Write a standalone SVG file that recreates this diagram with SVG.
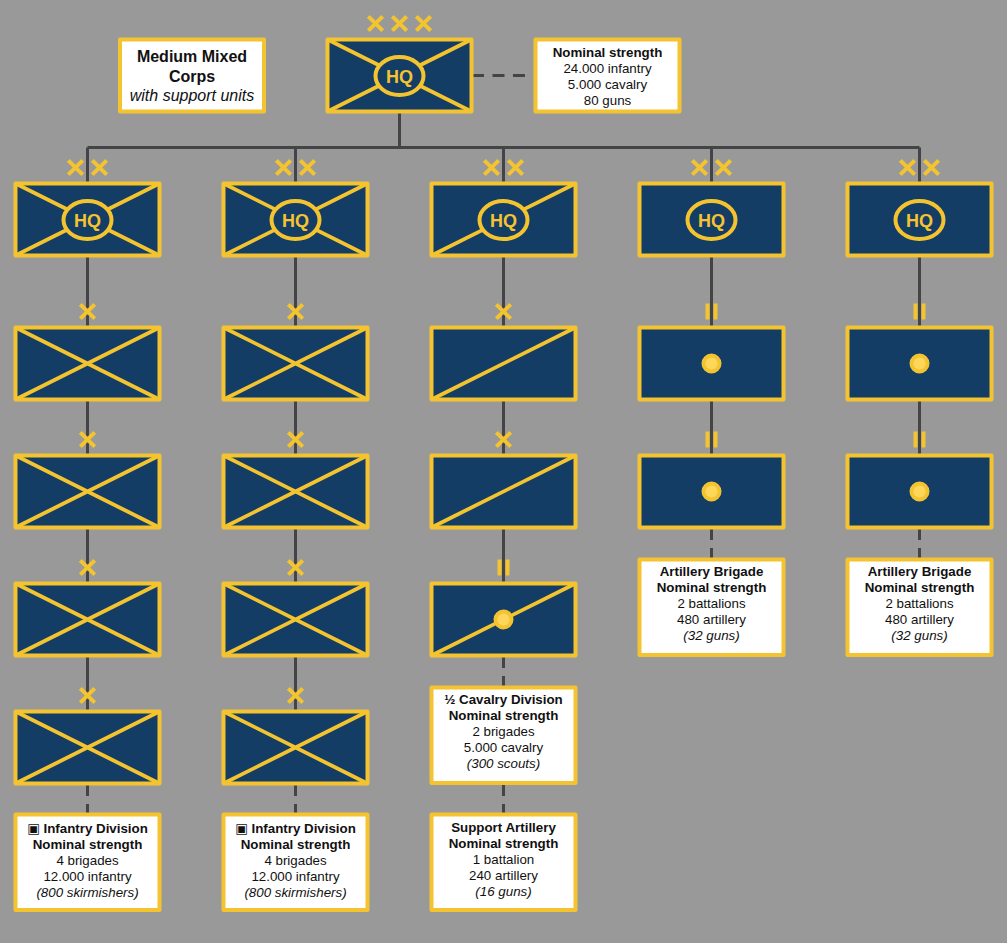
<svg xmlns="http://www.w3.org/2000/svg" xmlns:xlink="http://www.w3.org/1999/xlink" width="1007" height="943" viewBox="0 0 1007 943">
<style>
text{font-family:"Liberation Sans",Arial,"DejaVu Sans",sans-serif;font-size:13.33px;fill:#111;text-anchor:middle}
.t{font-weight:bold}
.i{font-style:italic}
.big{font-size:16px}
.hq{font-size:18px;font-weight:bold;fill:#f4c430}
.ic{font-family:"DejaVu Sans",sans-serif;font-weight:normal}
.frame{fill:#143d66;stroke:#f4c430;stroke-width:4;stroke-linejoin:round}
.box{fill:#fff;stroke:#f4c430;stroke-width:4;stroke-linejoin:round}
.diag{stroke:#f4c430;stroke-width:3.8;fill:none}
.oval{fill:#143d66;stroke:#f4c430;stroke-width:4}
.mark{stroke:#f4c430;stroke-width:4;fill:none}
.dot{fill:#ffd65c;stroke:#f4c430;stroke-width:4}
.line{stroke:#444;stroke-width:3;fill:none}
.dash{stroke:#444;stroke-width:3;fill:none;stroke-dasharray:12 8}
</style>
<defs>
<rect id="f" class="frame" x="-72" y="-36" width="144" height="72"/>
<path id="x" class="diag" d="M-72-36L72 36M72-36L-72 36"/>
<path id="s" class="diag" d="M72-36L-72 36"/>
<path id="m" class="mark" d="M-7.2-7.2L7.2 7.2M7.2-7.2L-7.2 7.2"/>
<path id="ii" class="mark" d="M-4-8V8M4-8V8"/>
<g id="o"><ellipse class="oval" cy="0.6" rx="24" ry="19"/><text class="hq" y="7">HQ</text></g>
<circle id="d" class="dot" r="8"/>
</defs>
<rect width="1007" height="943" fill="#999"/>
<g id="connectors">
<path class="line" d="M399.5 111.5V147.5M87.5 147.5H919.5M87.5 147.5V183.5M295.5 147.5V183.5M503.5 147.5V183.5M711.5 147.5V183.5M919.5 147.5V183.5"/>
<path class="line" d="M87.5 255.5V712M295.5 255.5V712M503.5 255.5V584M711.5 255.5V456M919.5 255.5V456"/>
<path class="dash" style="stroke-dasharray:12 8.5" d="M472 75.5H526"/>
<path class="dash" d="M87.5 784V816M295.5 784V816M503.5 656V688M503.5 784V816M711.5 528V560M919.5 528V560"/>
</g>
<g id="title"><rect class="box" x="120" y="39.5" width="144" height="72"/><text class="t big" x="192" y="62">Medium Mixed</text><text class="t big" x="192" y="82">Corps</text><text class="i big" x="192" y="101">with support units</text></g>
<g id="corps" transform="translate(399.5 75.5)"><use href="#f"/><use href="#x"/><use href="#o"/><use href="#m" x="-24" y="-52"/><use href="#m" y="-52"/><use href="#m" x="24" y="-52"/></g>
<g id="corps-strength"><rect class="box" x="535.5" y="39.5" width="144" height="72"/><text class="t" x="607.5" y="57">Nominal strength</text><text x="607.5" y="73">24.000 infantry</text><text x="607.5" y="89">5.000 cavalry</text><text x="607.5" y="105">80 guns</text></g>

<g id="div1" transform="translate(87.5 219.5)"><use href="#f"/><use href="#x"/><use href="#o"/><use href="#m" x="-12" y="-52"/><use href="#m" x="12" y="-52"/></g>
<g id="div2" transform="translate(295.5 219.5)"><use href="#f"/><use href="#x"/><use href="#o"/><use href="#m" x="-12" y="-52"/><use href="#m" x="12" y="-52"/></g>
<g id="div3" transform="translate(503.5 219.5)"><use href="#f"/><use href="#s"/><use href="#o"/><use href="#m" x="-12" y="-52"/><use href="#m" x="12" y="-52"/></g>
<g id="div4" transform="translate(711.5 219.5)"><use href="#f"/><use href="#o"/><use href="#m" x="-12" y="-52"/><use href="#m" x="12" y="-52"/></g>
<g id="div5" transform="translate(919.5 219.5)"><use href="#f"/><use href="#o"/><use href="#m" x="-12" y="-52"/><use href="#m" x="12" y="-52"/></g>

<g id="bde1-1" transform="translate(87.5 363.5)"><use href="#f"/><use href="#x"/><use href="#m" y="-52"/></g>
<g id="bde1-2" transform="translate(87.5 491.5)"><use href="#f"/><use href="#x"/><use href="#m" y="-52"/></g>
<g id="bde1-3" transform="translate(87.5 619.5)"><use href="#f"/><use href="#x"/><use href="#m" y="-52"/></g>
<g id="bde1-4" transform="translate(87.5 747.5)"><use href="#f"/><use href="#x"/><use href="#m" y="-52"/></g>
<g id="bde2-1" transform="translate(295.5 363.5)"><use href="#f"/><use href="#x"/><use href="#m" y="-52"/></g>
<g id="bde2-2" transform="translate(295.5 491.5)"><use href="#f"/><use href="#x"/><use href="#m" y="-52"/></g>
<g id="bde2-3" transform="translate(295.5 619.5)"><use href="#f"/><use href="#x"/><use href="#m" y="-52"/></g>
<g id="bde2-4" transform="translate(295.5 747.5)"><use href="#f"/><use href="#x"/><use href="#m" y="-52"/></g>
<g id="bde3-1" transform="translate(503.5 363.5)"><use href="#f"/><use href="#s"/><use href="#m" y="-52"/></g>
<g id="bde3-2" transform="translate(503.5 491.5)"><use href="#f"/><use href="#s"/><use href="#m" y="-52"/></g>
<g id="bn3-3" transform="translate(503.5 619.5)"><use href="#f"/><use href="#s"/><use href="#d"/><use href="#ii" y="-52"/></g>
<g id="bn4-1" transform="translate(711.5 363.5)"><use href="#f"/><use href="#d"/><use href="#ii" y="-52"/></g>
<g id="bn4-2" transform="translate(711.5 491.5)"><use href="#f"/><use href="#d"/><use href="#ii" y="-52"/></g>
<g id="bn5-1" transform="translate(919.5 363.5)"><use href="#f"/><use href="#d"/><use href="#ii" y="-52"/></g>
<g id="bn5-2" transform="translate(919.5 491.5)"><use href="#f"/><use href="#d"/><use href="#ii" y="-52"/></g>

<g id="info1"><rect class="box" x="15.5" y="814.5" width="144" height="95.5"/><text class="t" x="87.5" y="833"><tspan class="ic">▣</tspan> Infantry Division</text><text class="t" x="87.5" y="849">Nominal strength</text><text x="87.5" y="865">4 brigades</text><text x="87.5" y="881">12.000 infantry</text><text class="i" x="87.5" y="897">(800 skirmishers)</text></g>
<g id="info2"><rect class="box" x="223.5" y="814.5" width="144" height="95.5"/><text class="t" x="295.5" y="833"><tspan class="ic">▣</tspan> Infantry Division</text><text class="t" x="295.5" y="849">Nominal strength</text><text x="295.5" y="865">4 brigades</text><text x="295.5" y="881">12.000 infantry</text><text class="i" x="295.5" y="897">(800 skirmishers)</text></g>
<g id="info3a"><rect class="box" x="431.5" y="687.5" width="144" height="95.5"/><text class="t" x="503.5" y="704">½ Cavalry Division</text><text class="t" x="503.5" y="720">Nominal strength</text><text x="503.5" y="736">2 brigades</text><text x="503.5" y="752">5.000 cavalry</text><text class="i" x="503.5" y="768">(300 scouts)</text></g>
<g id="info3b"><rect class="box" x="431.5" y="814.5" width="144" height="95.5"/><text class="t" x="503.5" y="832">Support Artillery</text><text class="t" x="503.5" y="848">Nominal strength</text><text x="503.5" y="864">1 battalion</text><text x="503.5" y="880">240 artillery</text><text class="i" x="503.5" y="896">(16 guns)</text></g>
<g id="info4"><rect class="box" x="639.5" y="559.5" width="144" height="95.5"/><text class="t" x="711.5" y="576">Artillery Brigade</text><text class="t" x="711.5" y="592">Nominal strength</text><text x="711.5" y="608">2 battalions</text><text x="711.5" y="624">480 artillery</text><text class="i" x="711.5" y="640">(32 guns)</text></g>
<g id="info5"><rect class="box" x="847.5" y="559.5" width="144" height="95.5"/><text class="t" x="919.5" y="576">Artillery Brigade</text><text class="t" x="919.5" y="592">Nominal strength</text><text x="919.5" y="608">2 battalions</text><text x="919.5" y="624">480 artillery</text><text class="i" x="919.5" y="640">(32 guns)</text></g>
</svg>
